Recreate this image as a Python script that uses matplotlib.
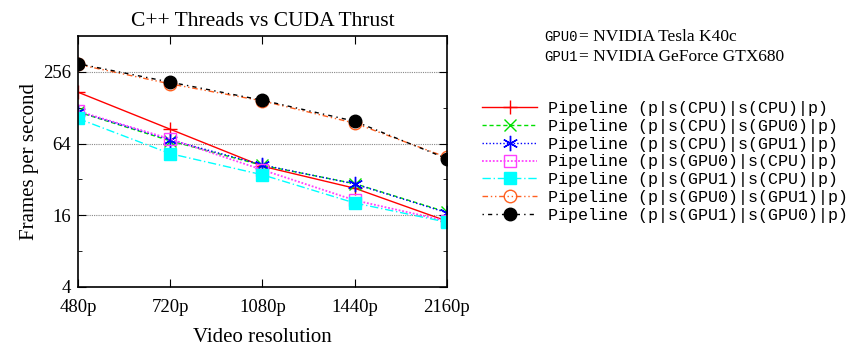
import numpy as np
import matplotlib
matplotlib.use('Agg')
import matplotlib.pyplot as plt
from matplotlib.ticker import FixedLocator, NullFormatter

resolutions = ['480p', '720p', '1080p', '1440p', '2160p']

cpu_cpu = [173, 84.5, 41.3, 27.0, 14.3]
cpu_gpu0 = [118, 67.5, 42.0, 29.5, 17.0]
cpu_gpu1 = [119, 68.7, 42.4, 29.3, 16.8]
gpu0_cpu = [120, 70.0, 38.5, 21.4, 14.3]
gpu1_cpu = [104, 52.7, 35.0, 20.3, 14.0]
gpu0_gpu1 = [296, 203, 146, 95.0, 49.0]
gpu1_gpu0 = [300, 210, 148, 98.6, 47.8]

labels = ['Pipeline (p|s(CPU)|s(CPU)|p)',
          'Pipeline (p|s(CPU)|s(GPU0)|p)',
          'Pipeline (p|s(CPU)|s(GPU1)|p)',
          'Pipeline (p|s(GPU0)|s(CPU)|p)',
          'Pipeline (p|s(GPU1)|s(CPU)|p)',
          'Pipeline (p|s(GPU0)|s(GPU1)|p)',
          'Pipeline (p|s(GPU1)|s(GPU0)|p)']

serif = 'Liberation Serif'
mono = 'Liberation Mono'

fig = plt.figure(figsize=[8.52, 3.49], dpi=100)
ax = fig.add_axes([0.0915, 0.1777, 0.4331, 0.719])
x = np.arange(len(resolutions))

ax.plot(x, cpu_cpu, color='red', lw=1, marker='+', ms=10, mew=1, label=labels[0])
ax.plot(x, cpu_gpu0, color='#00e000', lw=1, ls=(0, (3, 2)), marker='x', ms=8, mew=1, label=labels[1])
ax.plot(x, cpu_gpu1, color='blue', lw=1, ls=(0, (1, 1.5)), marker=(6, 2, 0), ms=11, mew=1, label=labels[2])
ax.plot(x, gpu0_cpu, color='#ff40ff', lw=1.3, ls=(0, (1, 1)), marker='s', ms=9, mfc='none', mew=1, label=labels[3])
ax.plot(x, gpu1_cpu, color='cyan', lw=1, ls=(0, (6, 2, 1, 2)), marker='s', ms=9, label=labels[4])
ax.plot(x, gpu0_gpu1, color='#ff6020', lw=1, ls=(0, (4, 2, 1, 2, 1, 2)), marker='o', ms=9, mfc='none', mew=1, label=labels[5])
ax.plot(x, gpu1_gpu0, color='black', lw=1, ls=(0, (1, 3, 3, 3)), marker='o', ms=9, label=labels[6])

ax.set_yscale('log', base=2)
ax.set_ylim(4, 512)
ax.set_xlim(0, 4)
ax.yaxis.set_major_locator(FixedLocator([4, 16, 64, 256]))
ax.yaxis.set_minor_locator(FixedLocator([8, 32, 128]))
ax.yaxis.set_minor_formatter(NullFormatter())
ax.set_yticklabels(['4', '16', '64', '256'])
ax.set_xticks(x)
ax.set_xticklabels(resolutions)
ax.tick_params(which='both', direction='in', top=True, right=True, labelsize=13.5)
ax.tick_params(axis='x', pad=9)
ax.tick_params(axis='y', pad=5)
ax.tick_params(which='major', length=6)
ax.tick_params(which='minor', length=3)
for lab in ax.get_xticklabels() + ax.get_yticklabels():
    lab.set_family(serif)
ax.grid(axis='y', which='major', color='#888888', ls=(0, (1, 1)), lw=0.8)
for s in ax.spines.values():
    s.set_linewidth(1.2)

ax.set_title('C++ Threads vs CUDA Thrust', fontsize=15.5, family=serif, pad=7)
ax.set_xlabel('Video resolution', fontsize=15, family=serif, labelpad=8)
ax.set_ylabel('Frames per second', fontsize=15, family=serif, labelpad=3)

leg = fig.legend(loc='upper left', bbox_to_anchor=(0.558, 0.73), frameon=False,
                 prop={'family': mono, 'size': 12}, handlelength=3.3,
                 handletextpad=0.65, labelspacing=0.17, borderaxespad=0)

fig.text(0.639, 0.895, 'GPU0', family=mono, fontsize=10, va='center')
fig.text(0.680, 0.895, '= NVIDIA Tesla K40c', family=serif, fontsize=12.5, va='center')
fig.text(0.639, 0.837, 'GPU1', family=mono, fontsize=10, va='center')
fig.text(0.680, 0.837, '= NVIDIA GeForce GTX680', family=serif, fontsize=12.5, va='center')

fig.savefig('out.png', dpi=100)
